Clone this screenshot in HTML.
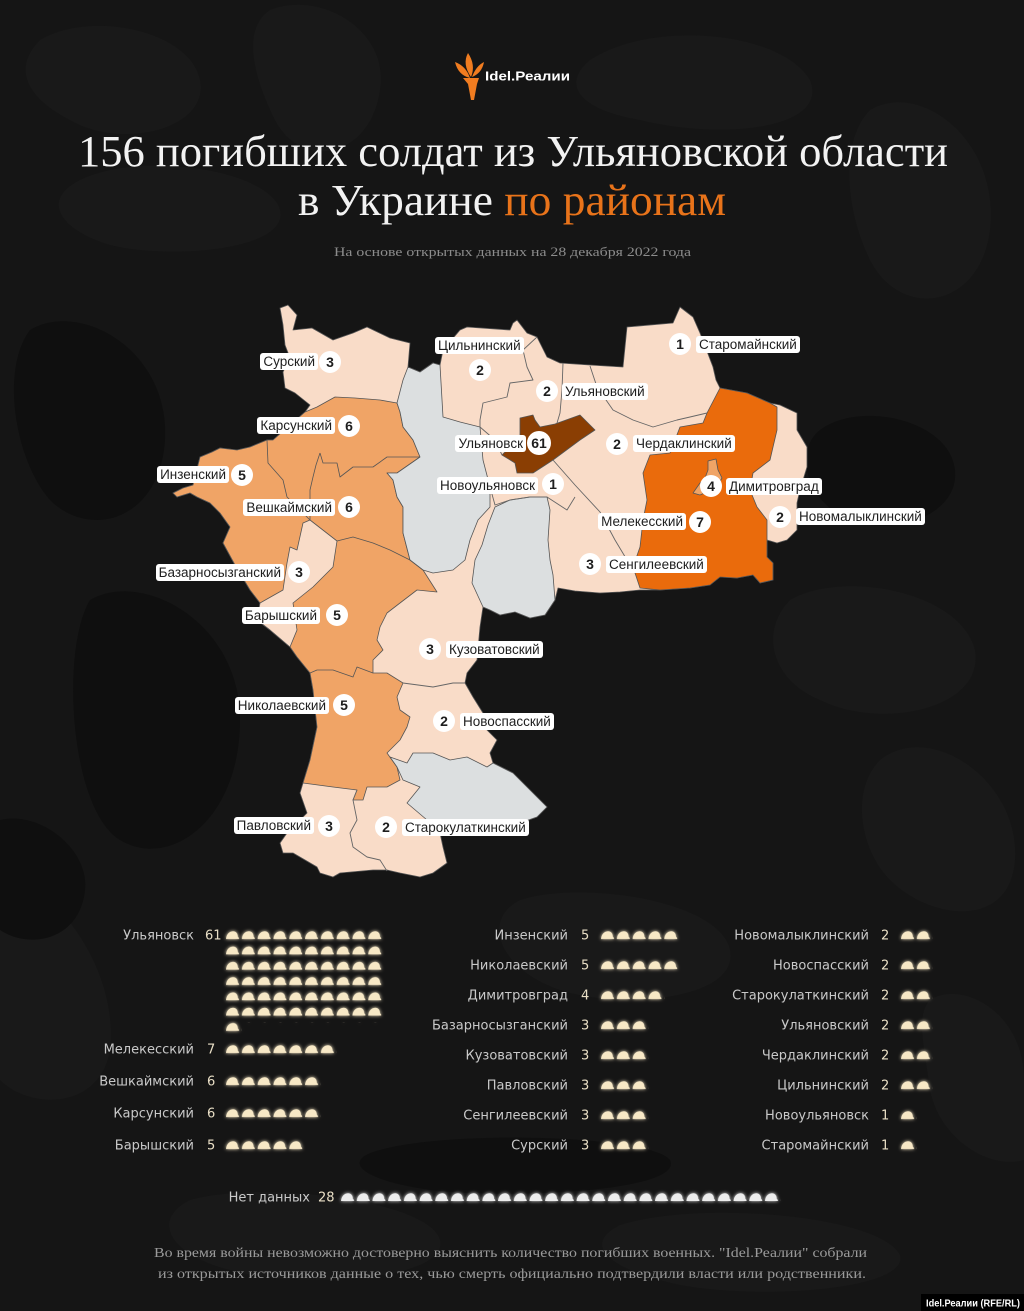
<!DOCTYPE html>
<html lang="ru">
<head>
<meta charset="utf-8">
<title>156 погибших солдат из Ульяновской области в Украине по районам</title>
<style>
  html,body{margin:0;padding:0;background:#151515;}
  #wrap{position:relative;width:1024px;height:1311px;overflow:hidden;background:#151515;}
  svg{position:absolute;left:0;top:0;}
  .lb{position:absolute;background:#fff;color:#1e1e1e;font:13.5px/17px "Liberation Sans","DejaVu Sans",sans-serif;height:17px;padding:0 3px;border-radius:3px;white-space:nowrap;}
  .nc{position:absolute;width:22px;height:22px;border-radius:50%;background:#fff;color:#1e1e1e;font:bold 14px/22px "Liberation Sans","DejaVu Sans",sans-serif;text-align:center;}
  .nc.big{width:24px;height:24px;line-height:24px;font-size:14px;}
</style>
</head>
<body>
<div id="wrap">
<svg width="1024" height="1311" viewBox="0 0 1024 1311" xmlns="http://www.w3.org/2000/svg">
  <defs>
    <pattern id="pc" width="15.8" height="15.3" patternUnits="userSpaceOnUse">
      <path d="M0,8 C0.5,3.5 3,0.5 7,0.3 C10,0.3 11.8,2.5 11.8,5.6 L13,7 L13,8 Z" fill="#f7e8c6"/>
    </pattern>
    <pattern id="pw" width="15.7" height="20" patternUnits="userSpaceOnUse">
      <path d="M0,8 C0.5,3.5 3,0.5 7,0.3 C10,0.3 11.8,2.5 11.8,5.6 L13,7 L13,8 Z" fill="#ececec"/>
    </pattern>
    <filter id="gl" x="-0.1" y="-0.6" width="1.2" height="2.2">
      <feGaussianBlur in="SourceGraphic" stdDeviation="1.8" result="b"/>
      <feMerge><feMergeNode in="b"/><feMergeNode in="SourceGraphic"/></feMerge>
    </filter>
  </defs>

  <!-- background camo (subtle) -->
  <rect width="1024" height="1311" fill="#151515"/>
  <g fill="#191919">
    <path d="M40,40 C90,10 190,30 200,80 C210,130 120,150 70,120 C30,100 10,70 40,40 Z"/>
    <path d="M270,10 C320,-10 390,30 380,90 C370,160 300,170 275,120 C255,80 240,30 270,10 Z"/>
    <path d="M590,60 C650,20 780,30 810,80 C830,130 720,140 640,120 C580,110 560,85 590,60 Z"/>
    <path d="M870,110 C920,80 1000,140 990,230 C980,310 900,320 870,260 C845,210 840,140 870,110 Z"/>
    <path d="M80,180 C140,150 270,170 280,210 C290,250 170,260 110,245 C60,230 40,200 80,180 Z"/>
    <path d="M790,600 C840,570 960,590 975,650 C985,710 880,730 820,700 C770,680 760,630 790,600 Z"/>
    <path d="M880,760 C930,720 1020,780 1015,860 C1010,930 930,920 890,880 C860,850 850,790 880,760 Z"/>
    <path d="M0,880 C40,870 120,960 110,1050 C100,1110 30,1110 0,1080 Z"/>
    <path d="M520,900 C580,880 720,900 730,950 C740,1000 620,1010 560,990 C500,970 480,920 520,900 Z"/>
    <path d="M190,1200 C260,1180 430,1200 440,1240 C450,1280 300,1290 230,1270 C170,1255 150,1220 190,1200 Z"/>
    <path d="M620,1225 C700,1200 880,1215 900,1255 C910,1290 760,1300 680,1285 C610,1270 580,1245 620,1225 Z"/>
    <path d="M930,1000 C960,980 1024,1010 1024,1080 L1024,1160 C990,1170 940,1140 930,1090 C925,1050 915,1015 930,1000 Z"/>
  </g>
  <g fill="#0f0f0f">
    <path d="M30,330 C80,300 170,350 165,440 C160,520 90,540 50,500 C15,460 0,370 30,330 Z"/>
    <path d="M90,600 C140,570 240,620 240,720 C240,820 170,870 120,840 C70,810 60,650 90,600 Z"/>
    <path d="M820,430 C860,400 950,420 955,470 C960,520 880,540 840,515 C805,495 795,450 820,430 Z"/>
    <path d="M380,1150 C450,1130 650,1135 670,1160 C685,1190 520,1200 430,1190 C360,1180 340,1160 380,1150 Z"/>
    <path d="M0,820 C40,810 90,850 85,890 C80,940 30,950 0,930 Z"/>
  </g>

  <!-- logo -->
  <g fill="#f07c20">
    <path d="M463,78 L479,78 L477,84 L474,100 L471,100 L468,84 Z"/>
    <path d="M470,78 Q458,75 455,62 Q466,66 470,78 Z"/>
    <path d="M471,77 Q462,64 468,53 Q476,65 471,77 Z"/>
    <path d="M472,77 Q476,66 484,62 Q482,73 472,77 Z"/>
  </g>
  <text x="485" y="80.5" font-family="Liberation Sans, sans-serif" font-weight="bold" font-size="13" fill="#ffffff" textLength="85" lengthAdjust="spacingAndGlyphs">Idel.Реалии</text>

  <!-- title -->
  <text x="78" y="166" font-family="Liberation Serif, serif" font-size="44" fill="#f2f2f2" textLength="870" lengthAdjust="spacingAndGlyphs">156 погибших солдат из Ульяновской области</text>
  <text x="298" y="215" font-family="Liberation Serif, serif" font-size="44" fill="#f2f2f2" textLength="428" lengthAdjust="spacingAndGlyphs">в Украине <tspan fill="#e8731a">по районам</tspan></text>
  <text x="334" y="256" font-family="Liberation Serif, serif" font-size="13" fill="#8c8c8c" textLength="357" lengthAdjust="spacingAndGlyphs">На основе открытых данных на 28 декабря 2022 года</text>

  <!-- MAP -->
  <g stroke="#555" stroke-width="0.8" stroke-linejoin="round">
    <polygon fill="#f9dcc8" points="280,308 288,305 297,315 293,330 312,328 333,340 353,333 367,327 390,338 410,343 408,367 420,372 433,363 440,365 443,350 460,330 467,327 510,330 513,323 517,320 527,333 537,337 547,357 560,363 590,365 623,367 627,327 673,323 680,307 693,317 700,333 713,367 716,380 720,388 747,393 770,403 780,405 797,413 797,430 807,447 807,467 800,490 797,503 797,530 787,540 777,543 767,540 767,557 773,563 773,580 760,583 753,575 737,578 720,577 710,585 690,588 660,590 640,590 620,592 600,593 575,591 558,588 555,600 545,615 530,618 515,612 500,615 490,610 483,607 480,627 477,660 467,673 465,683 473,697 483,713 487,730 497,740 490,753 493,763 513,773 530,790 547,807 537,817 520,823 497,823 470,833 453,830 440,833 443,847 447,863 433,873 420,877 400,873 387,870 373,870 340,873 333,877 320,873 317,867 293,853 283,853 280,843 287,833 307,813 300,793 303,783 310,760 317,727 313,690 310,673 297,657 290,647 270,630 257,620 260,603 250,590 235,565 223,543 230,527 220,513 210,503 197,497 190,493 177,497 173,493 183,488 193,485 200,457 212,452 220,448 237,450 250,447 267,440 273,440 290,425 305,412 310,405 295,393 285,388 283,372 290,358 285,345 283,325"/>
    <polygon fill="#f0a466" points="273,440 290,425 305,412 317,407 335,397 355,398 380,400 397,403 400,412 403,427 413,440 420,457 397,473 387,473 393,480 397,497 403,507 403,533 410,560 423,570 437,592 417,590 400,603 387,613 380,627 377,640 383,650 373,660 373,673 387,673 403,683 397,697 400,710 410,717 407,727 400,740 387,753 397,767 400,780 387,787 367,787 363,800 353,800 357,790 333,787 303,783 310,760 317,727 313,690 310,673 297,657 290,647 270,630 257,620 260,603 250,590 235,565 223,543 230,527 220,513 210,503 197,497 190,493 177,497 173,493 183,488 193,485 200,457 212,452 220,448 237,450 250,447 267,440"/>
    <polygon fill="#f9dcc8" points="303,523 310,520 337,541 333,567 313,587 293,603 297,630 290,647 270,630 257,620 260,603 283,590 287,563 290,547 297,550"/>
    <g fill="none">
      <polyline points="267,440 268,463 283,480 287,497 310,520"/>
      <polyline points="320,453 323,463 337,463 340,477 353,467 373,467 387,457 400,457 420,457"/>
      <polyline points="320,453 316,465 313,477 310,490 310,520"/>
      <polyline points="337,541 353,537 373,543 390,550 410,560"/>
      <polyline points="310,673 317,670 333,670 353,677 357,667 373,673"/>
    </g>
    <polygon fill="#dcdfe0" points="408,367 420,372 433,363 440,365 443,417 460,422 480,427 483,460 490,487 490,507 478,520 470,540 465,560 453,570 433,573 423,570 410,560 403,533 403,507 397,497 393,480 387,473 397,473 420,457 413,440 403,427 400,412 397,403 403,380"/>
    <polygon fill="#dcdfe0" points="495,507 510,500 530,497 547,497 550,510 548,540 550,560 553,575 555,600 545,615 530,618 515,612 500,615 490,610 483,607 472,583 475,560 482,545 488,525"/>
    <polygon fill="#dcdfe0" points="390,757 407,763 413,753 433,753 450,760 467,757 487,767 493,763 513,773 530,790 547,807 537,817 520,823 497,823 470,833 453,830 440,833 427,820 407,803 420,787 403,780 397,767"/>
    <polygon fill="#ea6b0c" points="720,388 747,393 770,403 777,407 777,430 773,447 770,460 753,473 750,490 757,507 767,520 767,557 773,563 773,580 760,583 753,575 737,578 720,577 710,585 690,588 660,590 640,588 633,567 640,547 643,520 647,500 643,473 650,455 670,453 680,427 703,423 707,413"/>
    <polygon fill="#8a3e03" points="520,418 533,415 535,420 540,427 555,424 580,415 595,430 580,440 553,460 533,473 517,473 515,463 502,455 510,447 520,440 520,427"/>
    <polygon fill="#f0a466" points="708,461 716,459 718,470 722,478 716,488 700,495 693,493 700,483 705,478 708,470"/>
    <g fill="none" stroke="#666" stroke-width="0.9">
      <polyline points="537,337 523,350 527,367 533,380 510,383 507,397 483,403 480,420 480,427"/>
      <polyline points="563,363 562,390 560,413 557,423"/>
      <polyline points="590,366 597,387 613,410 633,420 653,427 677,420 690,417 707,413"/>
      <polyline points="480,427 495,440 502,455"/>
      <polyline points="490,487 495,505 510,500 530,497 547,497 567,510 575,497"/>
      <polyline points="553,460 575,485 600,512 615,540 627,560 633,567"/>
      <polyline points="403,683 433,687 453,683 465,683"/>
      <polyline points="357,790 353,800 357,820 350,833 353,847 367,857 380,860 387,871"/>
    </g>
  </g>

  <!-- LIST text -->
  <g font-family="DejaVu Sans, Liberation Sans, sans-serif" font-size="13">
    <g fill="#c9c9c9" text-anchor="end">
      <text x="194" y="939.5">Ульяновск</text>
      <text x="194" y="1053.5">Мелекесский</text>
      <text x="194" y="1085.5">Вешкаймский</text>
      <text x="194" y="1117.5">Карсунский</text>
      <text x="194" y="1149.5">Барышский</text>

      <text x="568" y="939.5">Инзенский</text>
      <text x="568" y="969.5">Николаевский</text>
      <text x="568" y="999.5">Димитровград</text>
      <text x="568" y="1029.5">Базарносызганский</text>
      <text x="568" y="1059.5">Кузоватовский</text>
      <text x="568" y="1089.5">Павловский</text>
      <text x="568" y="1119.5">Сенгилеевский</text>
      <text x="568" y="1149.5">Сурский</text>

      <text x="869" y="939.5">Новомалыклинский</text>
      <text x="869" y="969.5">Новоспасский</text>
      <text x="869" y="999.5">Старокулаткинский</text>
      <text x="869" y="1029.5">Ульяновский</text>
      <text x="869" y="1059.5">Чердаклинский</text>
      <text x="869" y="1089.5">Цильнинский</text>
      <text x="869" y="1119.5">Новоульяновск</text>
      <text x="869" y="1149.5">Старомайнский</text>

      <text x="310" y="1201.5">Нет данных</text>
    </g>
    <g fill="#e9dfc6">
      <text x="205" y="939.5">61</text>
      <text x="207" y="1053.5">7</text>
      <text x="207" y="1085.5">6</text>
      <text x="207" y="1117.5">6</text>
      <text x="207" y="1149.5">5</text>

      <text x="581" y="939.5">5</text>
      <text x="581" y="969.5">5</text>
      <text x="581" y="999.5">4</text>
      <text x="581" y="1029.5">3</text>
      <text x="581" y="1059.5">3</text>
      <text x="581" y="1089.5">3</text>
      <text x="581" y="1119.5">3</text>
      <text x="581" y="1149.5">3</text>

      <text x="881" y="939.5">2</text>
      <text x="881" y="969.5">2</text>
      <text x="881" y="999.5">2</text>
      <text x="881" y="1029.5">2</text>
      <text x="881" y="1059.5">2</text>
      <text x="881" y="1089.5">2</text>
      <text x="881" y="1119.5">1</text>
      <text x="881" y="1149.5">1</text>

      <text x="318" y="1201.5">28</text>
    </g>
  </g>

  <!-- helmets -->
  <g filter="url(#gl)">
    <g transform="translate(226,931)"><rect width="158" height="92" fill="url(#pc)"/></g>
    <g transform="translate(226,1022.8)"><rect width="15.8" height="10" fill="url(#pc)"/></g>
    <g transform="translate(226,1045)"><rect width="110.6" height="10" fill="url(#pc)"/></g>
    <g transform="translate(226,1077)"><rect width="94.8" height="10" fill="url(#pc)"/></g>
    <g transform="translate(226,1109)"><rect width="94.8" height="10" fill="url(#pc)"/></g>
    <g transform="translate(226,1141)"><rect width="79" height="10" fill="url(#pc)"/></g>
  </g>
  <g filter="url(#gl)">
    <g transform="translate(601,931)"><rect width="79" height="10" fill="url(#pc)"/></g>
    <g transform="translate(601,961)"><rect width="79" height="10" fill="url(#pc)"/></g>
    <g transform="translate(601,991)"><rect width="63.2" height="10" fill="url(#pc)"/></g>
    <g transform="translate(601,1021)"><rect width="47.4" height="10" fill="url(#pc)"/></g>
    <g transform="translate(601,1051)"><rect width="47.4" height="10" fill="url(#pc)"/></g>
    <g transform="translate(601,1081)"><rect width="47.4" height="10" fill="url(#pc)"/></g>
    <g transform="translate(601,1111)"><rect width="47.4" height="10" fill="url(#pc)"/></g>
    <g transform="translate(601,1141)"><rect width="47.4" height="10" fill="url(#pc)"/></g>
  </g>
  <g filter="url(#gl)">
    <g transform="translate(901,931)"><rect width="31.6" height="10" fill="url(#pc)"/></g>
    <g transform="translate(901,961)"><rect width="31.6" height="10" fill="url(#pc)"/></g>
    <g transform="translate(901,991)"><rect width="31.6" height="10" fill="url(#pc)"/></g>
    <g transform="translate(901,1021)"><rect width="31.6" height="10" fill="url(#pc)"/></g>
    <g transform="translate(901,1051)"><rect width="31.6" height="10" fill="url(#pc)"/></g>
    <g transform="translate(901,1081)"><rect width="31.6" height="10" fill="url(#pc)"/></g>
    <g transform="translate(901,1111)"><rect width="15.8" height="10" fill="url(#pc)"/></g>
    <g transform="translate(901,1141)"><rect width="15.8" height="10" fill="url(#pc)"/></g>
  </g>
  <g filter="url(#gl)">
    <g transform="translate(341,1193)"><rect width="439.6" height="10" fill="url(#pw)"/></g>
  </g>

  <!-- footer -->
  <text x="154" y="1257" font-family="Liberation Serif, serif" font-size="14" fill="#9a9a9a" textLength="713" lengthAdjust="spacingAndGlyphs">Во время войны невозможно достоверно выяснить количество погибших военных. "Idel.Реалии" собрали</text>
  <text x="158" y="1278" font-family="Liberation Serif, serif" font-size="14" fill="#9a9a9a" textLength="708" lengthAdjust="spacingAndGlyphs">из открытых источников данные о тех, чью смерть официально подтвердили власти или родственники.</text>

  <rect x="921" y="1294" width="103" height="17" fill="#000"/>
  <text x="926" y="1306.5" font-family="Liberation Sans, sans-serif" font-weight="bold" font-size="10.5" fill="#fff" textLength="94" lengthAdjust="spacingAndGlyphs">Idel.Реалии (RFE/RL)</text>
</svg>

<!-- map labels -->
<div class="lb" style="right:706px;top:353px;">Сурский</div><div class="nc" style="left:319px;top:351px;">3</div>
<div class="lb" style="right:689px;top:417px;">Карсунский</div><div class="nc" style="left:338px;top:415px;">6</div>
<div class="lb" style="right:795px;top:466px;">Инзенский</div><div class="nc" style="left:231px;top:464px;">5</div>
<div class="lb" style="right:689px;top:499px;">Вешкаймский</div><div class="nc" style="left:338px;top:496px;">6</div>
<div class="lb" style="right:740px;top:564px;">Базарносызганский</div><div class="nc" style="left:288px;top:561px;">3</div>
<div class="lb" style="right:704px;top:607px;">Барышский</div><div class="nc" style="left:326px;top:604px;">5</div>

<div class="lb" style="left:435px;top:337px;">Цильнинский</div><div class="nc" style="left:469px;top:359px;">2</div>
<div class="nc" style="left:536px;top:380px;">2</div><div class="lb" style="left:562px;top:383px;">Ульяновский</div>
<div class="nc" style="left:669px;top:333px;">1</div><div class="lb" style="left:696px;top:336px;">Старомайнский</div>
<div class="lb" style="right:498px;top:435px;">Ульяновск</div><div class="nc big" style="left:527px;top:431px;">61</div>
<div class="nc" style="left:606px;top:433px;">2</div><div class="lb" style="left:633px;top:435px;">Чердаклинский</div>
<div class="lb" style="right:486px;top:477px;">Новоульяновск</div><div class="nc" style="left:542px;top:473px;">1</div>
<div class="nc" style="left:700px;top:475px;">4</div><div class="lb" style="left:726px;top:478px;">Димитровград</div>
<div class="nc" style="left:769px;top:506px;">2</div><div class="lb" style="left:796px;top:508px;">Новомалыклинский</div>
<div class="lb" style="right:338px;top:513px;">Мелекесский</div><div class="nc" style="left:689px;top:511px;">7</div>
<div class="nc" style="left:579px;top:553px;">3</div><div class="lb" style="left:606px;top:556px;">Сенгилеевский</div>
<div class="nc" style="left:419px;top:638px;">3</div><div class="lb" style="left:446px;top:641px;">Кузоватовский</div>
<div class="lb" style="right:695px;top:697px;">Николаевский</div><div class="nc" style="left:333px;top:694px;">5</div>
<div class="nc" style="left:433px;top:710px;">2</div><div class="lb" style="left:460px;top:713px;">Новоспасский</div>
<div class="lb" style="right:710px;top:817px;">Павловский</div><div class="nc" style="left:318px;top:815px;">3</div>
<div class="nc" style="left:375px;top:816px;">2</div><div class="lb" style="left:402px;top:819px;">Старокулаткинский</div>
</div>
</body>
</html>
